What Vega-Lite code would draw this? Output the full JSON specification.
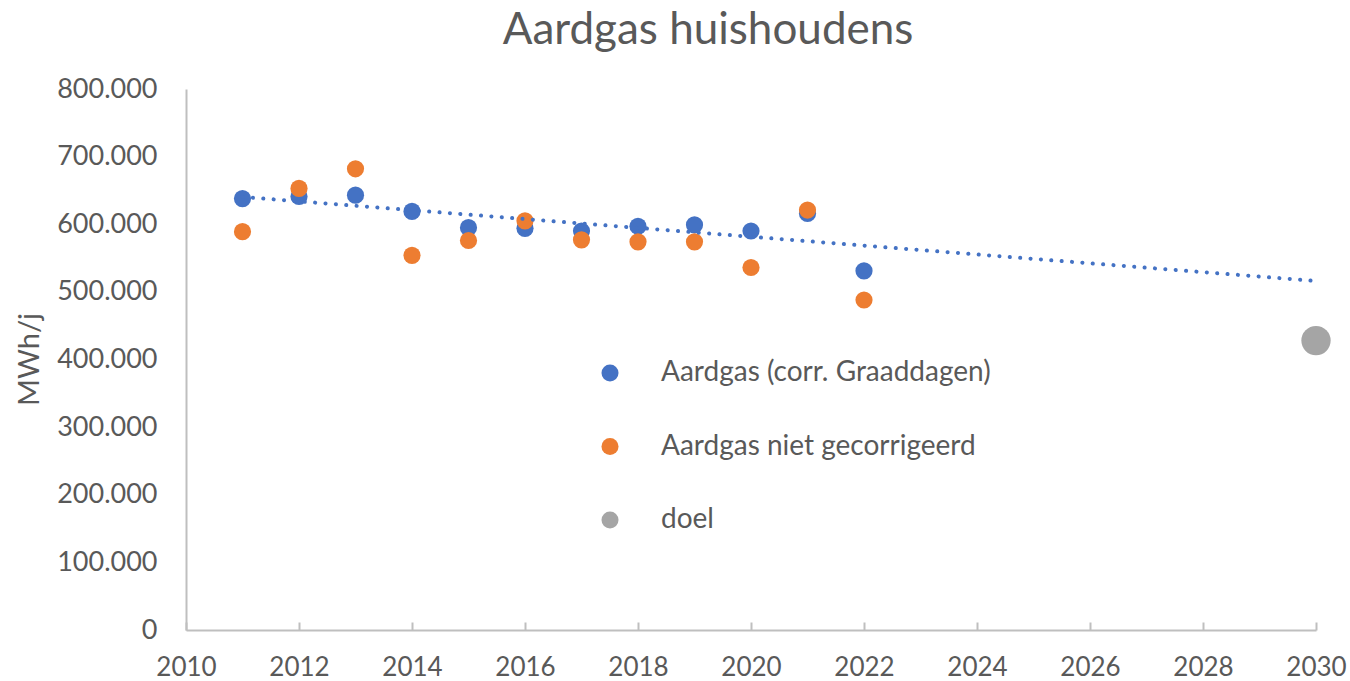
{
  "$schema": "https://vega.github.io/schema/vega-lite/v6.json",
  "width": 1130,
  "height": 541,
  "autosize": {"type": "none"},
  "padding": {"left": 186, "top": 89, "right": 34, "bottom": 51},
  "background": "white",
  "title": {
    "text": "Aardgas huishoudens",
    "fontSize": 44,
    "font": "Lato",
    "fontWeight": "normal",
    "color": "#595959",
    "anchor": "middle",
    "frame": "group",
    "offset": 22,
    "dx": -43
  },
  "config": {
    "font": "Lato",
    "view": {"stroke": null},
    "locale": {"number": {"decimal": ",", "thousands": ".", "grouping": [3], "currency": ["€", ""]}},
    "axis": {
      "labelColor": "#595959",
      "titleColor": "#595959",
      "domainColor": "#BFBFBF",
      "domainWidth": 2,
      "tickColor": "#BFBFBF",
      "tickWidth": 2,
      "grid": false,
      "labelFont": "Lato",
      "titleFont": "Lato"
    }
  },
  "data": {
    "values": [
      {"jaar": 2011, "waarde": 638000, "reeks": "Aardgas (corr. Graaddagen)"},
      {"jaar": 2012, "waarde": 641000, "reeks": "Aardgas (corr. Graaddagen)"},
      {"jaar": 2013, "waarde": 643000, "reeks": "Aardgas (corr. Graaddagen)"},
      {"jaar": 2014, "waarde": 619000, "reeks": "Aardgas (corr. Graaddagen)"},
      {"jaar": 2015, "waarde": 595000, "reeks": "Aardgas (corr. Graaddagen)"},
      {"jaar": 2016, "waarde": 594000, "reeks": "Aardgas (corr. Graaddagen)"},
      {"jaar": 2017, "waarde": 590000, "reeks": "Aardgas (corr. Graaddagen)"},
      {"jaar": 2018, "waarde": 597000, "reeks": "Aardgas (corr. Graaddagen)"},
      {"jaar": 2019, "waarde": 599000, "reeks": "Aardgas (corr. Graaddagen)"},
      {"jaar": 2020, "waarde": 590000, "reeks": "Aardgas (corr. Graaddagen)"},
      {"jaar": 2021, "waarde": 616000, "reeks": "Aardgas (corr. Graaddagen)"},
      {"jaar": 2022, "waarde": 531000, "reeks": "Aardgas (corr. Graaddagen)"},
      {"jaar": 2011, "waarde": 589000, "reeks": "Aardgas niet gecorrigeerd"},
      {"jaar": 2012, "waarde": 653000, "reeks": "Aardgas niet gecorrigeerd"},
      {"jaar": 2013, "waarde": 682000, "reeks": "Aardgas niet gecorrigeerd"},
      {"jaar": 2014, "waarde": 554000, "reeks": "Aardgas niet gecorrigeerd"},
      {"jaar": 2015, "waarde": 576000, "reeks": "Aardgas niet gecorrigeerd"},
      {"jaar": 2016, "waarde": 605000, "reeks": "Aardgas niet gecorrigeerd"},
      {"jaar": 2017, "waarde": 577000, "reeks": "Aardgas niet gecorrigeerd"},
      {"jaar": 2018, "waarde": 574000, "reeks": "Aardgas niet gecorrigeerd"},
      {"jaar": 2019, "waarde": 574000, "reeks": "Aardgas niet gecorrigeerd"},
      {"jaar": 2020, "waarde": 536000, "reeks": "Aardgas niet gecorrigeerd"},
      {"jaar": 2021, "waarde": 621000, "reeks": "Aardgas niet gecorrigeerd"},
      {"jaar": 2022, "waarde": 488000, "reeks": "Aardgas niet gecorrigeerd"},
      {"jaar": 2030, "waarde": 428000, "reeks": "doel"}
    ]
  },
  "layer": [
    {
      "mark": {"type": "point", "filled": true, "opacity": 1, "strokeWidth": 0},
      "encoding": {
        "x": {
          "field": "jaar",
          "type": "quantitative",
          "scale": {"domain": [2010, 2030], "nice": false, "zero": false},
          "axis": {
            "values": [2010, 2012, 2014, 2016, 2018, 2020, 2022, 2024, 2026, 2028, 2030],
            "format": "d",
            "title": null,
            "labelFontSize": 26,
            "ticks": true,
            "tickSize": -8,
            "labelBaseline": "middle",
            "labelPadding": 45,
            "labelFlush": false
          }
        },
        "y": {
          "field": "waarde",
          "type": "quantitative",
          "scale": {"domain": [0, 800000], "nice": false},
          "axis": {
            "values": [0, 100000, 200000, 300000, 400000, 500000, 600000, 700000, 800000],
            "format": ",d",
            "ticks": false,
            "labelFontSize": 27,
            "labelPadding": 29,
            "title": "MWh/j",
            "titleFontSize": 29,
            "titleFontWeight": "normal",
            "titleAngle": -90,
            "titleX": -157,
            "titleY": 270,
            "titleAlign": "center",
            "titleBaseline": "middle"
          }
        },
        "color": {
          "field": "reeks",
          "type": "nominal",
          "sort": null,
          "scale": {
            "domain": ["Aardgas (corr. Graaddagen)", "Aardgas niet gecorrigeerd", "doel"],
            "range": ["#4472C4", "#ED7D31", "#A5A5A5"]
          },
          "legend": {
            "title": null,
            "orient": "none",
            "legendX": 410,
            "legendY": 270,
            "symbolType": "circle",
            "symbolSize": 290,
            "symbolStrokeWidth": 0,
            "labelFontSize": 28,
            "labelColor": "#595959",
            "labelFont": "Lato",
            "labelOffset": 37,
            "rowPadding": 45.5,
            "padding": 0,
            "labelLimit": 600
          }
        },
        "size": {
          "condition": {"test": "datum.reeks === 'doel'", "value": 860},
          "value": 295
        },
        "shape": {"value": "circle"}
      }
    },
    {
      "transform": [
        {"filter": "datum.reeks === 'Aardgas (corr. Graaddagen)'"},
        {"regression": "waarde", "on": "jaar", "method": "linear", "extent": [2011, 2030]}
      ],
      "mark": {
        "type": "line",
        "color": "#4472C4",
        "strokeWidth": 4,
        "strokeDash": [0.1, 10.3],
        "strokeCap": "round"
      },
      "encoding": {
        "x": {"field": "jaar", "type": "quantitative"},
        "y": {"field": "waarde", "type": "quantitative"}
      }
    }
  ]
}
